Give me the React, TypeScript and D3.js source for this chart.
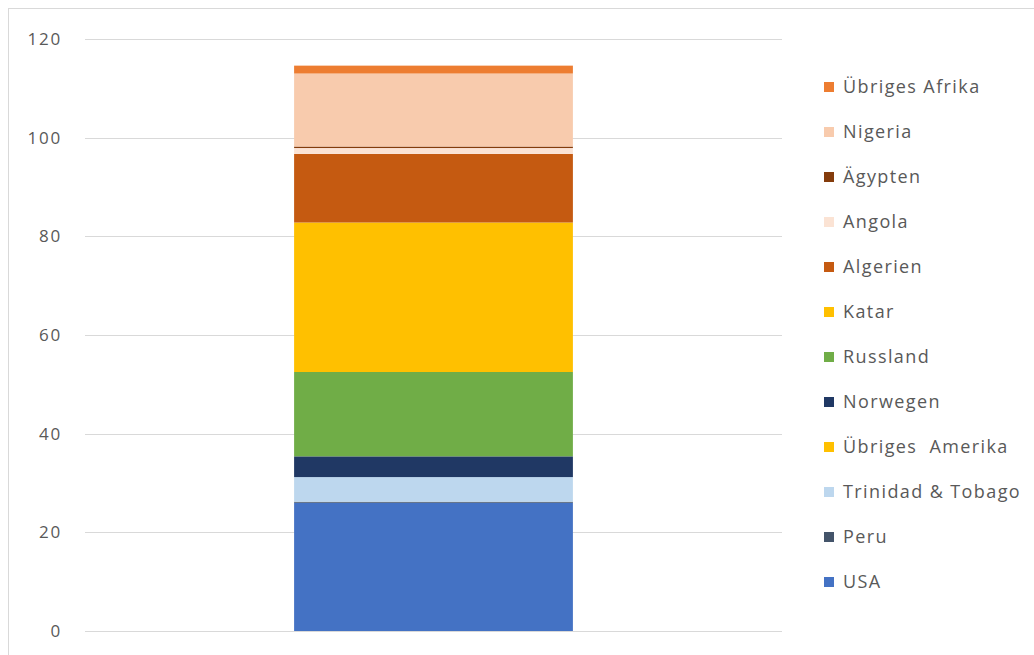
import React from "react";
import * as d3 from "d3";

const categories = ["Gesamt"];
const seriesNames = [
  "USA",
  "Peru",
  "Trinidad & Tobago",
  "Übriges  Amerika",
  "Norwegen",
  "Russland",
  "Katar",
  "Algerien",
  "Angola",
  "Ägypten",
  "Nigeria",
  "Übriges Afrika",
];
const seriesValues = [26.0, 0.2, 5.0, 0.0, 4.2, 17.1, 30.3, 13.9, 1.2, 0.3, 14.8, 1.6];
const seriesColors = [
  "#4472C4",
  "#44546A",
  "#BDD7EE",
  "#FFC000",
  "#203864",
  "#70AD47",
  "#FFC000",
  "#C55A11",
  "#FBE3D4",
  "#843C0C",
  "#F8CBAD",
  "#ED7D31",
];
// legend order (top to bottom)
const legendOrder = [
  "Übriges Afrika",
  "Nigeria",
  "Ägypten",
  "Angola",
  "Algerien",
  "Katar",
  "Russland",
  "Norwegen",
  "Übriges  Amerika",
  "Trinidad & Tobago",
  "Peru",
  "USA",
];
const yTicks = [0, 20, 40, 60, 80, 100, 120];

const W = 1034;
const H = 655;

export default function App() {
  const y = d3.scaleLinear().domain([0, 120]).range([631, 39]);
  const x = d3.scaleBand().domain(categories).range([85, 782]).paddingInner(0.6).paddingOuter(0.3);
  const bw = x.bandwidth();

  const row: Record<string, number> = {};
  seriesNames.forEach((n, i) => (row[n] = seriesValues[i]));
  const stack = d3.stack<Record<string, number>>().keys(seriesNames);
  const stacked = stack([row]);

  const legendY = d3.scalePoint().domain(legendOrder).range([87, 582]);
  const font = "'Open Sans', 'Liberation Sans', sans-serif";

  return (
    <svg
      width={W}
      height={H}
      style={{ position: "absolute", left: 0, top: 0, background: "#fff" }}
      fontFamily={font}
    >
      <rect x={8.5} y={8.5} width={W + 10} height={H + 10} fill="#fff" stroke="#d9d9d9" />
      {yTicks.map((t) => (
        <g key={t}>
          <line x1={85} x2={782} y1={Math.round(y(t)) + 0.5} y2={Math.round(y(t)) + 0.5} stroke="#d9d9d9" />
          <text x={62} y={y(t)} dy="0.35em" textAnchor="end" fontSize={17} letterSpacing={1.8} fill="#595959">
            {t}
          </text>
        </g>
      ))}
      {stacked.map((s, i) =>
        s.map((d, j) => {
          const top = y(d[1]);
          const bot = y(d[0]);
          const h = bot - top;
          if (h <= 0) return null;
          return (
            <rect
              key={i + "-" + j}
              x={(x(categories[j]) as number)}
              y={top}
              width={bw}
              height={Math.max(h, 1)}
              fill={seriesColors[i]}
            />
          );
        })
      )}
      {legendOrder.map((n) => {
        const i = seriesNames.indexOf(n);
        const cy = legendY(n) as number;
        return (
          <g key={n}>
            <rect x={824} y={cy - 5} width={10} height={10} fill={seriesColors[i]} />
            <text
              x={843}
              y={cy}
              dy="0.35em"
              fontSize={18}
              letterSpacing={1.4}
              fill="#595959"
              style={{ whiteSpace: "pre" }}
            >
              {n}
            </text>
          </g>
        );
      })}
    </svg>
  );
}
